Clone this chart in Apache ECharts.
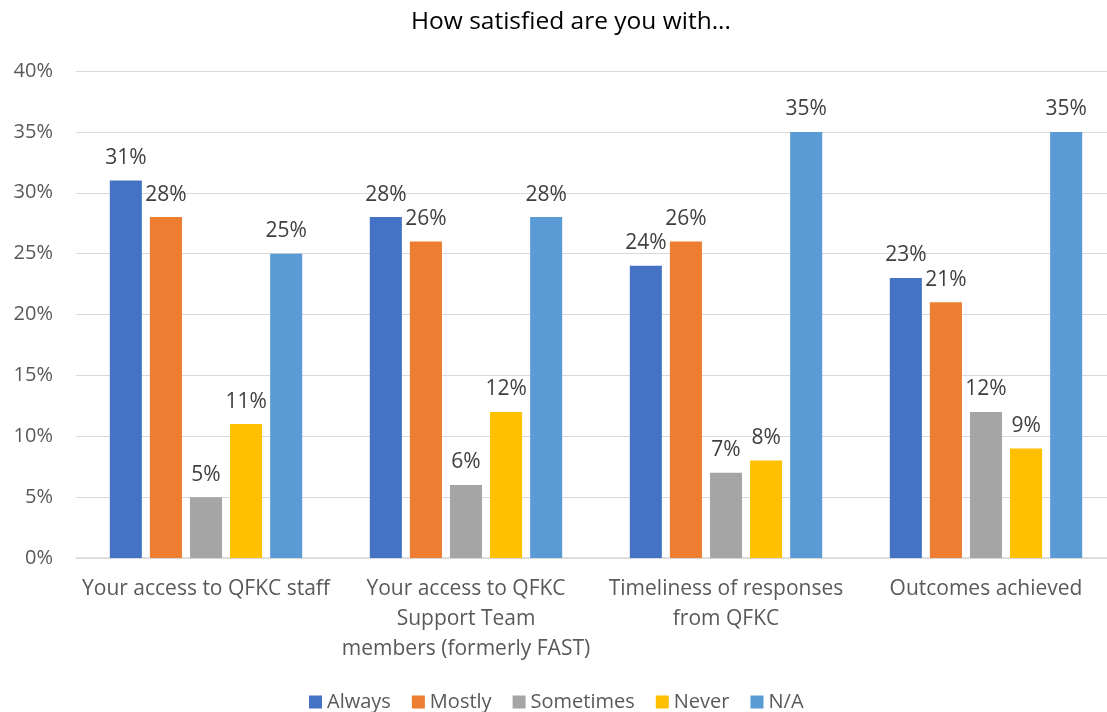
<!DOCTYPE html>
<html><head><meta charset="utf-8">
<script src="https://cdn.jsdelivr.net/npm/echarts@6/dist/echarts.min.js"></script>
<style>html,body{margin:0;padding:0;background:#fff;overflow:hidden;width:1107px;height:712px}#c{width:1116px;height:712px}</style>
</head><body><div id="c"></div>
<script>
const categories = ["Your access to QFKC staff", "Your access to QFKC\nSupport Team\nmembers (formerly FAST)", "Timeliness of responses\nfrom QFKC", "Outcomes achieved"];
const seriesNames = ["Always", "Mostly", "Sometimes", "Never", "N/A"];
const always = [31, 28, 24, 23];
const mostly = [28, 26, 26, 21];
const sometimes = [5, 6, 7, 12];
const never = [11, 12, 8, 9];
const na = [25, 28, 35, 35];
const yTicks = [0, 5, 10, 15, 20, 25, 30, 35, 40];
const colors = ["#4472C4", "#ED7D31", "#A5A5A5", "#FFC000", "#5B9BD5"];
const values = [always, mostly, sometimes, never, na];
const font = "'Open Sans', 'Noto Sans', sans-serif";

const chart = echarts.init(document.getElementById('c'));
chart.setOption({
  animation: false,
  textStyle: { fontFamily: font },
  title: { text: "How satisfied are you with...", left: 406, top: 5,
    textStyle: { fontFamily: font, fontSize: 24.5, fontWeight: 'normal', color: '#000' } },
  legend: { top: 687, left: 304, itemWidth: 13, itemHeight: 13, itemGap: 21,
    icon: 'rect',
    textStyle: { fontFamily: font, fontSize: 20, color: '#595959' },
    data: seriesNames },
  grid: { left: 76, right: 0, top: 71, bottom: 154, containLabel: false },
  xAxis: { type: 'category', data: categories,
    axisLine: { lineStyle: { color: '#D9D9D9', width: 1.5 } },
    axisTick: { show: false },
    axisLabel: { fontFamily: font, fontSize: 21, color: '#595959', margin: 16, lineHeight: 30, interval: 0 } },
  yAxis: { type: 'value', min: yTicks[0], max: yTicks[yTicks.length - 1], interval: 5,
    axisLine: { show: false }, axisTick: { show: false },
    axisLabel: { fontFamily: font, fontSize: 20, color: '#595959', margin: 23, formatter: v => v + '%' },
    splitLine: { lineStyle: { color: '#D9D9D9', width: 1 } } },
  series: seriesNames.map((n, i) => ({
    name: n, type: 'bar', data: values[i], barGap: '25%', barCategoryGap: '26%',
    itemStyle: { color: colors[i] },
    label: { show: true, position: 'top', distance: 12, formatter: p => p.value + '%',
      fontFamily: font, fontSize: 21, color: '#404040' }
  }))
});
</script></body></html>
